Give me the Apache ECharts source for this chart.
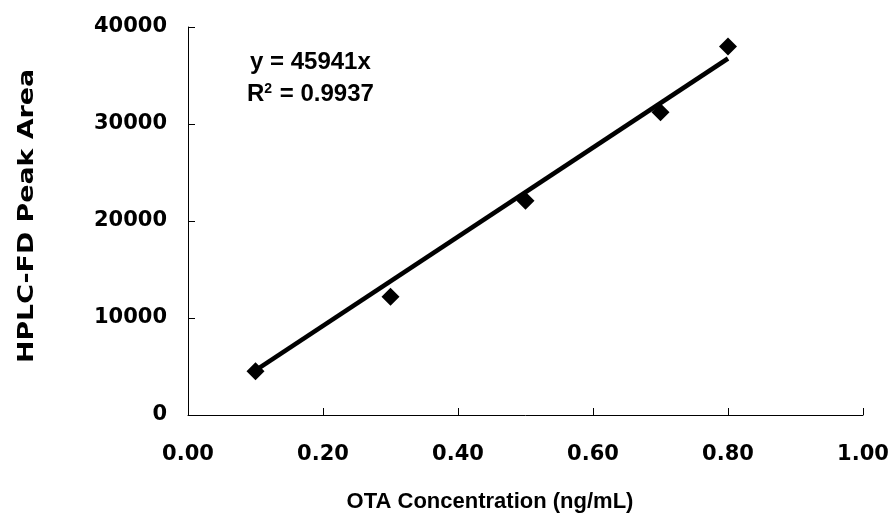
<!DOCTYPE html>
<html><head><meta charset="utf-8">
<script src="https://cdn.jsdelivr.net/npm/echarts@6/dist/echarts.min.js"></script>
<style>html,body{margin:0;padding:0;background:#fff}#c{width:893px;height:521px}</style>
</head><body><div id="c"></div>
<script>
const xValues = [0.1, 0.3, 0.5, 0.7, 0.8];
const yValues = [4500, 12200, 22100, 31200, 38000];
const slope = 45941;
const trendX = [0.1, 0.8];
const xTitle = 'OTA Concentration (ng/mL)';
const yTitle = 'HPLC-FD Peak Area';
const eqText = 'y = 45941x';
const r2Text = '0.9937';

const font = 'Liberation Sans, Arial, sans-serif';
const tickFont = 'DejaVu Sans, sans-serif';
const chart = echarts.init(document.getElementById('c'));
chart.setOption({
  animation: false,
  grid: {left: 188, right: 30, top: 27, bottom: 106},
  xAxis: {
    type: 'value', min: 0, max: 1, interval: 0.2,
    axisLine: {show: true, lineStyle: {color: '#000', width: 1}},
    axisTick: {show: true, inside: true, length: 7, lineStyle: {color: '#000'}},
    axisLabel: {formatter: v => v.toFixed(2), fontFamily: tickFont, fontWeight: 'bold', fontSize: 21, color: '#000', margin: 29},
    splitLine: {show: false}
  },
  yAxis: {
    type: 'value', min: 0, max: 40000, interval: 10000,
    axisLine: {show: true, lineStyle: {color: '#000', width: 1}},
    axisTick: {show: true, inside: true, length: 7, lineStyle: {color: '#000'}},
    axisLabel: {formatter: v => String(v), fontFamily: tickFont, fontWeight: 'bold', fontSize: 21, color: '#000', margin: 21},
    splitLine: {show: false}
  },
  series: [
    {
      type: 'line', data: trendX.map(x => [x, slope * x]),
      showSymbol: false, symbol: 'none',
      lineStyle: {color: '#000', width: 4.5}, z: 2
    },
    {
      type: 'scatter', data: xValues.map((x, i) => [x, yValues[i]]),
      symbol: 'diamond', symbolSize: [18, 18],
      itemStyle: {color: '#000', opacity: 1}, z: 3
    }
  ],
  graphic: [
    {type: 'text', left: 250, top: 50, style: {text: eqText, font: 'bold 24px ' + font, fill: '#000'}},
    {type: 'text', left: 247, top: 82, style: {
      text: 'R{s|2} = ' + r2Text,
      font: 'bold 24px ' + font, fill: '#000',
      rich: {s: {fontSize: 14, fontWeight: 'bold', fontFamily: font, verticalAlign: 'top', padding: [0, 1, 10, 0]}}
    }},
    {type: 'text', x: 490, y: 502,
      style: {text: xTitle, font: 'bold 22px ' + font, fill: '#000', align: 'center', verticalAlign: 'middle'}},
    {type: 'text', x: 27, y: 216, rotation: Math.PI / 2, scaleX: 1.22, scaleY: 1,
      style: {text: yTitle, font: 'bold 22px ' + tickFont, fill: '#000', align: 'center', verticalAlign: 'middle'}}
  ]
});
</script></body></html>
